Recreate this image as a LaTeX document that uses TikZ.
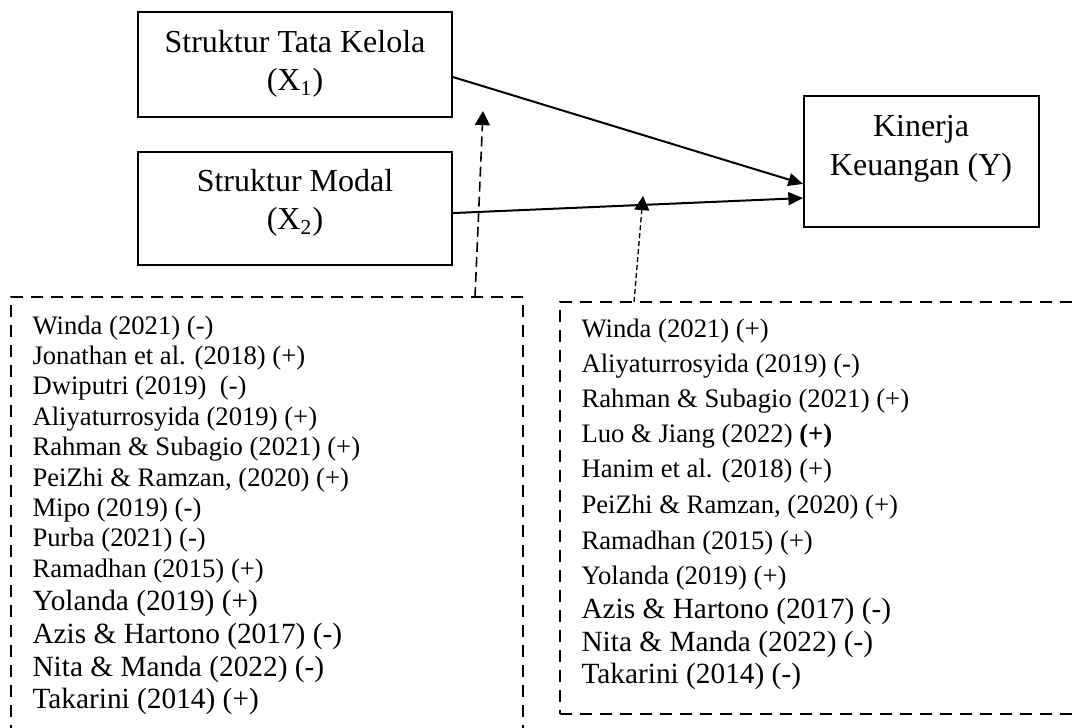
\documentclass[tikz,border=0pt]{standalone}
\usepackage{fontspec}
\setmainfont{Liberation Serif}
\usetikzlibrary{arrows.meta}
\begin{document}
\begin{tikzpicture}[x=0.375pt,y=-0.375pt,
  varbox/.style={draw,line width=0.75pt,inner sep=0pt},
  lbl/.style={align=center,font=\fontsize{12}{14.4}\selectfont,inner sep=0pt},
  refbox/.style={draw,line width=0.75pt,dash pattern=on 4.5pt off 3pt,inner sep=0pt},
  ref/.style={anchor=base west,inner sep=0pt,font=\fontsize{10}{12}\selectfont},
  refL/.style={anchor=base west,inner sep=0pt,font=\fontsize{11}{13}\selectfont},
  link/.style={line width=0.75pt,-{Triangle[length=5.5pt,width=4.8pt]}},
  modA/.style={line width=0.6pt,dash pattern=on 3.75pt off 1.9pt,-{Triangle[length=5.3pt,width=5.6pt]}},
  modB/.style={line width=0.5pt,dash pattern=on 1.9pt off 1.1pt,-{Triangle[length=5.3pt,width=5.6pt]}}
]
\useasboundingbox (0,0) rectangle (1073,727);
\clip (0,0) rectangle (1073,727);

% variable boxes
\node[varbox,minimum width=117.75pt,minimum height=39.4pt] (X1) at (295,64.5) {};
\node[lbl] (X1t) at (295,63.5) {Struktur Tata Kelola\\(X\textsubscript{1})};
\node[varbox,minimum width=117.75pt,minimum height=42.4pt] (X2) at (295,208.5) {};
\node[lbl] (X2t) at (295,202.5) {Struktur Modal\\(X\textsubscript{2})};
\node[varbox,minimum width=88.1pt,minimum height=49.1pt] (Y) at (921.5,161.5) {};
\node[lbl] (Yt) at (921,149) {Kinerja\\Keuangan (Y)};

% reference boxes
\node[refbox,minimum width=192pt,minimum height=168pt] (LB) at (267,521) {};
\node[refbox,minimum width=198.75pt,minimum height=154.5pt] (RB) at (825,508) {};

% main connectors
\draw[link] ([yshift=-4.7pt]X1.east) -- ([yshift=-8.4pt]Y.west);
\draw[link] ([yshift=-1.7pt]X2.east) -- ([yshift=-13.7pt]Y.west);

% dashed connectors from reference boxes
\coordinate (m1s) at (475,297);
\coordinate (m1t) at (483,111);
\coordinate (m2s) at (634,302);
\coordinate (m2t) at (643,196);
\draw[modA] (m1s) -- (m1t);
\draw[modB] (m2s) -- (m2t);

% left list
\node[ref] (l1) at (32,334) {Winda (2021) (-)};
\node[ref] (l2) at (32,364.4) {Jonathan et al. (2018) (+)};
\node[ref] (l3) at (32,394.8) {Dwiputri (2019)\ \ (-)};
\node[ref] (l4) at (32,425.2) {Aliyaturrosyida (2019) (+)};
\node[ref] (l5) at (32,455.6) {Rahman \& Subagio (2021) (+)};
\node[ref] (l6) at (32,486) {PeiZhi \& Ramzan, (2020) (+)};
\node[ref] (l7) at (32,516.4) {Mipo (2019) (-)};
\node[ref] (l8) at (32,546.8) {Purba (2021) (-)};
\node[ref] (l9) at (32,577.2) {Ramadhan (2015) (+)};
\node[refL] (l10) at (32,610) {Yolanda (2019) (+)};
\node[refL] (l11) at (32,643) {Azis \& Hartono (2017) (-)};
\node[refL] (l12) at (32,676) {Nita \& Manda (2022) (-)};
\node[refL] (l13) at (32,708) {Takarini (2014) (+)};

% right list
\node[ref] (r1) at (581,337) {Winda (2021) (+)};
\node[ref] (r2) at (581,372) {Aliyaturrosyida (2019) (-)};
\node[ref] (r3) at (581,407) {Rahman \& Subagio (2021) (+)};
\node[ref] (r4) at (581,442) {Luo \& Jiang (2022) \textbf{(+)}};
\node[ref] (r5) at (581,477) {Hanim et al. (2018) (+)};
\node[ref] (r6) at (581,513) {PeiZhi \& Ramzan, (2020) (+)};
\node[ref] (r7) at (581,549) {Ramadhan (2015) (+)};
\node[ref] (r8) at (581,584) {Yolanda (2019) (+)};
\node[refL] (r9) at (581,618) {Azis \& Hartono (2017) (-)};
\node[refL] (r10) at (581,651) {Nita \& Manda (2022) (-)};
\node[refL] (r11) at (581,683) {Takarini (2014) (-)};
\end{tikzpicture}
\end{document}
